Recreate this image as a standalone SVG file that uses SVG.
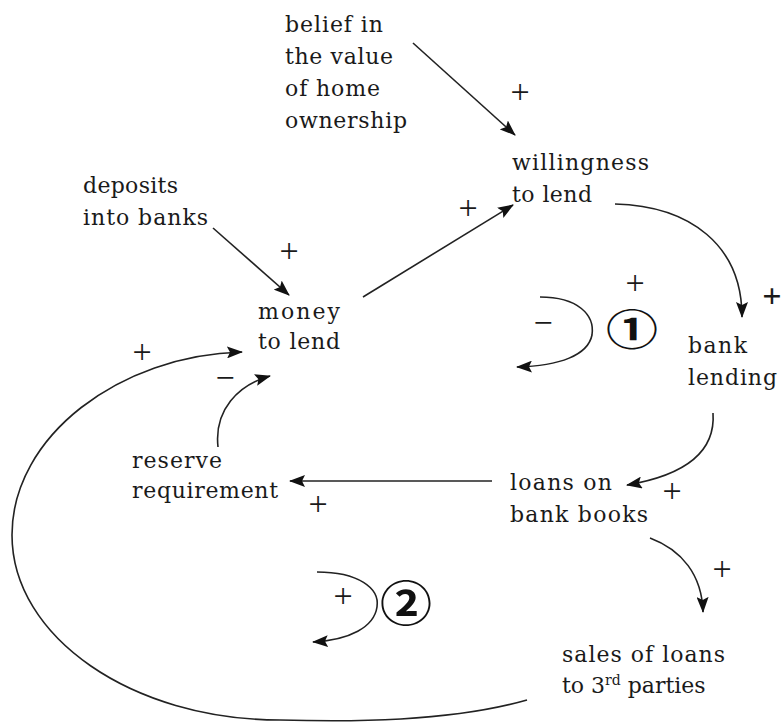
<svg xmlns="http://www.w3.org/2000/svg" width="783" height="725" viewBox="0 0 783 725">
<style>
  .n { font-family: "DejaVu Serif", "Liberation Serif", serif; font-size: 22px; fill: #1a1a1a; }
  .s { font-family: "Liberation Serif", "Times New Roman", serif; font-size: 34px; fill: #1a1a1a; text-anchor: middle; }
  .loop { font-family: "Noto Sans CJK JP", "DejaVu Sans", sans-serif; font-size: 52px; font-weight: bold; fill: #111; text-anchor: middle; }
  .c { fill: none; stroke: #222; stroke-width: 1.6; marker-end: url(#ah); }
</style>
<defs>
  <marker id="ah" viewBox="0 0 16 12" refX="15" refY="6" markerWidth="16" markerHeight="12" orient="auto" markerUnits="userSpaceOnUse">
    <path d="M0,0 L16,6 L0,12 L3,6 Z" fill="#111"/>
  </marker>
</defs>
<rect width="783" height="725" fill="#fff"/>

<g id="belief">
  <text class="n" x="285" y="32" textLength="98" lengthAdjust="spacing">belief in</text>
  <text class="n" x="285" y="64" textLength="108" lengthAdjust="spacing">the value</text>
  <text class="n" x="285" y="96" textLength="95" lengthAdjust="spacing">of home</text>
  <text class="n" x="285" y="128" textLength="122" lengthAdjust="spacing">ownership</text>
</g>
<g id="willingness">
  <text class="n" x="512" y="170" textLength="137" lengthAdjust="spacing">willingness</text>
  <text class="n" x="512" y="202" textLength="80" lengthAdjust="spacing">to lend</text>
</g>
<g id="deposits">
  <text class="n" x="83" y="193" textLength="95" lengthAdjust="spacing">deposits</text>
  <text class="n" x="83" y="225" textLength="125" lengthAdjust="spacing">into banks</text>
</g>
<g id="money">
  <text class="n" x="258" y="319" textLength="82" lengthAdjust="spacing">money</text>
  <text class="n" x="258" y="349" textLength="82" lengthAdjust="spacing">to lend</text>
</g>
<g id="bank-lending">
  <text class="n" x="688" y="353" textLength="59" lengthAdjust="spacing">bank</text>
  <text class="n" x="688" y="385" textLength="89" lengthAdjust="spacing">lending</text>
</g>
<g id="reserve">
  <text class="n" x="132" y="468" textLength="90" lengthAdjust="spacing">reserve</text>
  <text class="n" x="132" y="498" textLength="146" lengthAdjust="spacing">requirement</text>
</g>
<g id="loans">
  <text class="n" x="510" y="490" textLength="102" lengthAdjust="spacing">loans on</text>
  <text class="n" x="510" y="522" textLength="138" lengthAdjust="spacing">bank books</text>
</g>
<g id="sales">
  <text class="n" x="562" y="662" textLength="163" lengthAdjust="spacing">sales of loans</text>
  <text class="n" x="562" y="693">to 3<tspan font-size="14" dy="-8">rd</tspan><tspan dy="8"> parties</tspan></text>
</g>

<g id="connectors">
  <path class="c" d="M413,43 L515,135"/>
  <path class="c" d="M363,297 L513,205"/>
  <path class="c" d="M213,228 L289,295"/>
  <path class="c" d="M615,204 C690,206 742,245 742,317"/>
  <path class="c" d="M713,413 C716,455 680,476 627,485"/>
  <path class="c" d="M492,481 L290,481"/>
  <path class="c" d="M218,447 C214,410 238,385 270,376"/>
  <path class="c" d="M650,538 C682,550 702,575 703,612"/>
  <path class="c" d="M527,700 C450,722 350,722 280,720 C132,720 12,637 12,535 C12,436 120,355 242,352"/>
  <path class="c" d="M540,297 C578,297 595,315 592,335 C588,355 560,366 517,367"/>
  <path class="c" d="M317,572 C358,572 380,588 377,607 C374,627 350,640 313,642"/>
</g>

<g id="polarities">
  <text class="s" x="520" y="103">+</text>
  <text class="s" x="468" y="219">+</text>
  <text class="s" x="289" y="262">+</text>
  <text class="s" x="142" y="363">+</text>
  <text class="s" x="225" y="389">−</text>
  <text class="s" x="635" y="294">+</text>
  <text class="s" x="772" y="307" font-weight="bold">+</text>
  <text class="s" x="543" y="334">−</text>
  <text class="s" x="343" y="607">+</text>
  <text class="s" x="318" y="515">+</text>
  <text class="s" x="672" y="502">+</text>
  <text class="s" x="722" y="580">+</text>
</g>

<g id="loops">
  <text class="loop" transform="translate(632,329) scale(1,0.8)" x="0" y="20">①</text>
  <text class="loop" transform="translate(406,603) scale(1,0.92)" x="0" y="20">②</text>
</g>
</svg>
